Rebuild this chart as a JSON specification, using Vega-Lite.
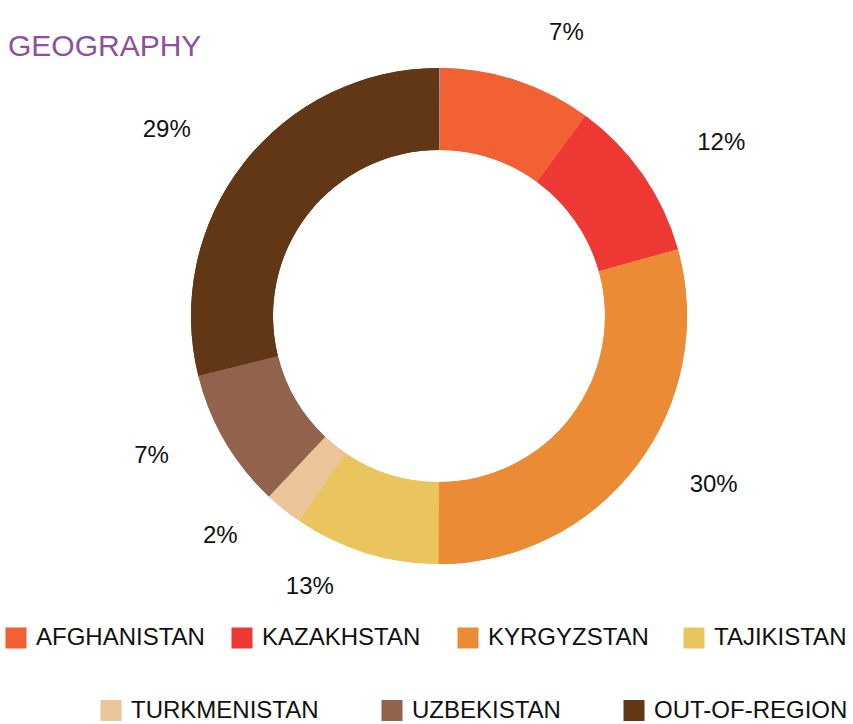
{
  "$schema": "https://vega.github.io/schema/vega-lite/v6.json",
  "width": 828,
  "height": 632,
  "autosize": "none",
  "padding": {"left": 25, "top": 0, "right": 0, "bottom": 92},
  "background": "white",
  "config": {"view": {"stroke": null}},
  "title": {
    "text": "GEOGRAPHY",
    "anchor": "start",
    "frame": "group",
    "orient": "top",
    "font": "Liberation Sans",
    "fontSize": 30,
    "fontWeight": "normal",
    "color": "#8D50A0",
    "baseline": "alphabetic",
    "offset": 0,
    "dx": -17,
    "dy": 86
  },
  "data": {
    "values": [
      {"n": 0, "country": "OTHER", "share": 0.07, "label": ""},
      {"n": 1, "country": "AFGHANISTAN", "share": 10.0, "label": "7%"},
      {"n": 2, "country": "KAZAKHSTAN", "share": 10.6, "label": "12%"},
      {"n": 3, "country": "KYRGYZSTAN", "share": 29.4, "label": "30%"},
      {"n": 4, "country": "TAJIKISTAN", "share": 9.5, "label": "13%"},
      {"n": 5, "country": "TURKMENISTAN", "share": 2.5, "label": "2%"},
      {"n": 6, "country": "UZBEKISTAN", "share": 9.1, "label": "7%"},
      {"n": 7, "country": "OUT-OF-REGION", "share": 28.9, "label": "29%"}
    ]
  },
  "layer": [
    {
      "mark": {"type": "arc", "outerRadius": 248, "innerRadius": 166},
      "encoding": {
        "theta": {"field": "share", "type": "quantitative", "stack": true},
        "order": {"field": "n", "type": "quantitative"},
        "color": {
          "field": "country",
          "type": "nominal",
          "scale": {
            "domain": ["OTHER", "AFGHANISTAN", "KAZAKHSTAN", "KYRGYZSTAN", "TAJIKISTAN", "TURKMENISTAN", "UZBEKISTAN", "OUT-OF-REGION"],
            "range": ["#9A9A9A", "#F26134", "#EE3834", "#EB8B36", "#EAC45D", "#ECC499", "#92634C", "#623716"]
          },
          "legend": {
            "orient": "none",
            "legendX": -21,
            "legendY": 626,
            "direction": "horizontal",
            "columns": 4,
            "title": null,
            "values": ["AFGHANISTAN", "KAZAKHSTAN", "KYRGYZSTAN", "TAJIKISTAN"],
            "symbolType": "square",
            "symbolSize": 441,
            "symbolStrokeWidth": 0,
            "labelFont": "Liberation Sans",
            "labelFontSize": 24,
            "labelColor": "#111111",
            "labelOffset": 8,
            "labelLimit": 400,
            "columnPadding": 25,
            "gridAlign": "all",
            "padding": 0
          }
        }
      }
    },
    {
      "mark": {"type": "arc", "outerRadius": 248, "innerRadius": 166},
      "encoding": {
        "theta": {"field": "share", "type": "quantitative", "stack": true},
        "order": {"field": "n", "type": "quantitative"},
        "color": {
          "field": "country",
          "type": "nominal",
          "scale": {
            "domain": ["OTHER", "AFGHANISTAN", "KAZAKHSTAN", "KYRGYZSTAN", "TAJIKISTAN", "TURKMENISTAN", "UZBEKISTAN", "OUT-OF-REGION"],
            "range": ["#9A9A9A", "#F26134", "#EE3834", "#EB8B36", "#EAC45D", "#ECC499", "#92634C", "#623716"]
          },
          "legend": {
            "orient": "none",
            "legendX": 74,
            "legendY": 698.5,
            "direction": "horizontal",
            "columns": 3,
            "title": null,
            "values": ["TURKMENISTAN", "UZBEKISTAN", "OUT-OF-REGION"],
            "symbolType": "square",
            "symbolSize": 441,
            "symbolStrokeWidth": 0,
            "labelFont": "Liberation Sans",
            "labelFontSize": 24,
            "labelColor": "#111111",
            "labelOffset": 8,
            "labelLimit": 400,
            "columnPadding": 61,
            "gridAlign": "each",
            "padding": 0
          }
        }
      }
    },
    {
      "mark": {
        "type": "text",
        "radius": 291,
        "font": "Liberation Sans",
        "fontSize": 24,
        "color": "#111111",
        "baseline": "alphabetic",
        "align": {"expr": "datum.share_start + datum.share_end < 100.07 ? 'left' : 'right'"},
        "dx": {"expr": "datum.share_start + datum.share_end < 100.07 ? 19 : -19"}
      },
      "encoding": {
        "theta": {"field": "share", "type": "quantitative", "stack": true},
        "order": {"field": "n", "type": "quantitative"},
        "text": {"field": "label", "type": "nominal"}
      }
    }
  ],
  "resolve": {"scale": {"color": "independent"}}
}
